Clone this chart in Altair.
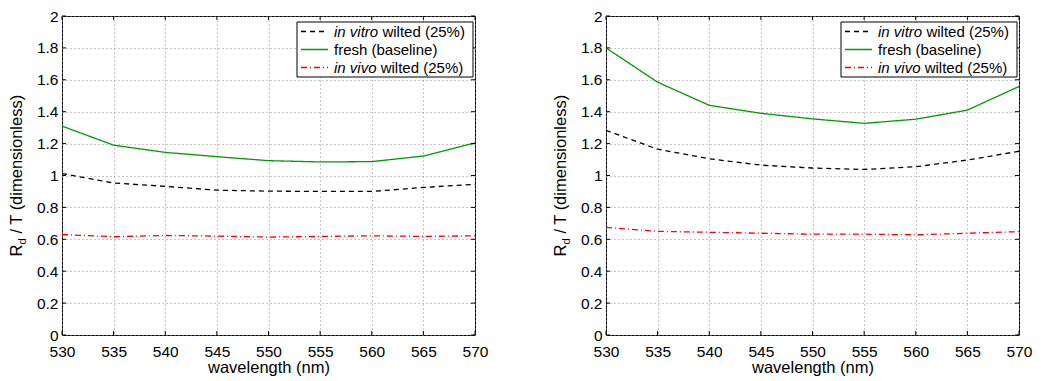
import altair as alt
import pandas as pd

# ---------------- data ----------------
wavelength = [530, 535, 540, 545, 550, 555, 560, 565, 570]

left_vitro = [1.012, 0.953, 0.932, 0.908, 0.902, 0.900, 0.900, 0.925, 0.945]
left_fresh = [1.310, 1.190, 1.145, 1.118, 1.093, 1.085, 1.087, 1.122, 1.204]
left_vivo = [0.630, 0.616, 0.624, 0.620, 0.614, 0.618, 0.622, 0.618, 0.622]

right_vitro = [1.283, 1.165, 1.105, 1.065, 1.047, 1.038, 1.055, 1.097, 1.152]
right_fresh = [1.800, 1.585, 1.440, 1.390, 1.355, 1.327, 1.353, 1.410, 1.558]
right_vivo = [0.675, 0.650, 0.644, 0.638, 0.632, 0.632, 0.628, 0.638, 0.648]

series_names = ["in vitro wilted (25%)", "fresh (baseline)", "in vivo wilted (25%)"]
legend_italic = ["in vitro", "", "in vivo"]
legend_plain = ["wilted (25%)", "fresh (baseline)", "wilted (25%)"]

x_ticks = [530, 535, 540, 545, 550, 555, 560, 565, 570]
y_ticks = [0, 0.2, 0.4, 0.6, 0.8, 1, 1.2, 1.4, 1.6, 1.8, 2]

# ---------------- style ----------------
FONT = "Liberation Sans"
W, H = 413, 319
COLORS = ["#000000", "#009a00", "#ff0000"]
DASHES = [[5, 4], [1, 0], [6, 3, 1, 3]]
TICK = 4
LBL = 15.5
TTL = 16.5

xs = alt.Scale(domain=[530, 570], nice=False, zero=False)
ys = alt.Scale(domain=[0, 2], nice=False, zero=False)

x_axis = alt.Axis(values=x_ticks, format="d", title="wavelength (nm)",
                  labelPadding=9, titlePadding=0, labelFlush=False, labelOverlap=False)
y_axis = alt.Axis(values=y_ticks, format="~g", title=None, labelPadding=4,
                  labelFlush=False, labelOverlap=False)

one = pd.DataFrame({"k": [0]})


def panel(vitro, fresh, vivo):
    rows = []
    for name, vals in zip(series_names, [vitro, fresh, vivo]):
        for w, v in zip(wavelength, vals):
            rows.append({"wavelength": w, "value": v, "series": name})
    df = pd.DataFrame(rows)

    lines = alt.Chart(df).mark_line(strokeWidth=1.3).encode(
        x=alt.X("wavelength:Q", scale=xs, axis=x_axis),
        y=alt.Y("value:Q", scale=ys, axis=y_axis),
        color=alt.Color("series:N", scale=alt.Scale(domain=series_names, range=COLORS), legend=None),
        strokeDash=alt.StrokeDash("series:N", scale=alt.Scale(domain=series_names, range=DASHES), legend=None),
    )

    xt = pd.DataFrame({"wavelength": x_ticks})
    yt = pd.DataFrame({"value": y_ticks})
    top_t = alt.Chart(xt).mark_rule(color="black").encode(
        x=alt.X("wavelength:Q", scale=xs, axis=x_axis), y=alt.value(0), y2=alt.value(TICK))
    bot_t = alt.Chart(xt).mark_rule(color="black").encode(
        x=alt.X("wavelength:Q", scale=xs, axis=x_axis), y=alt.value(H - TICK), y2=alt.value(H))
    left_t = alt.Chart(yt).mark_rule(color="black").encode(
        y=alt.Y("value:Q", scale=ys, axis=y_axis), x=alt.value(0), x2=alt.value(TICK))
    right_t = alt.Chart(yt).mark_rule(color="black").encode(
        y=alt.Y("value:Q", scale=ys, axis=y_axis), x=alt.value(W - TICK), x2=alt.value(W))

    layers = [lines, top_t, bot_t, left_t, right_t]

    # legend box (anchored to the top-right corner of the plot)
    layers.append(alt.Chart(one).mark_rect(fill="white", stroke="black", strokeWidth=1).encode(
        x=alt.value(W - 178), x2=alt.value(W - 2), y=alt.value(6), y2=alt.value(61)))
    row_y = [15.5, 33.5, 51.5]
    for i in range(3):
        ry = row_y[i]
        layers.append(alt.Chart(one).mark_rule(color=COLORS[i], strokeDash=DASHES[i], strokeWidth=1.3).encode(
            x=alt.value(W - 174), x2=alt.value(W - 147), y=alt.value(ry)))
        tx = W - 141
        if legend_italic[i]:
            layers.append(alt.Chart(one).mark_text(
                align="left", baseline="middle", font=FONT, fontSize=15, fontStyle="italic", color="black"
            ).encode(x=alt.value(tx), y=alt.value(ry), text=alt.value(legend_italic[i])))
            tx = tx + (48.4 if i == 0 else 46.7)
        layers.append(alt.Chart(one).mark_text(
            align="left", baseline="middle", font=FONT, fontSize=15, color="black"
        ).encode(x=alt.value(tx), y=alt.value(ry), text=alt.value(legend_plain[i])))

    # y-axis title: R_d / T (dimensionless)
    cy = H / 2 + 81
    bx = -40
    r_w = 0.722 * TTL
    d_w = 0.556 * 11.5
    sp = 0.278 * TTL
    layers.append(alt.Chart(one).mark_text(
        align="left", baseline="alphabetic", angle=270, font=FONT, fontSize=TTL, color="black"
    ).encode(x=alt.value(bx), y=alt.value(cy), text=alt.value("R")))
    layers.append(alt.Chart(one).mark_text(
        align="left", baseline="alphabetic", angle=270, font=FONT, fontSize=11.5, color="black"
    ).encode(x=alt.value(bx + 3.5), y=alt.value(cy - r_w), text=alt.value("d")))
    layers.append(alt.Chart(one).mark_text(
        align="left", baseline="alphabetic", angle=270, font=FONT, fontSize=TTL, color="black"
    ).encode(x=alt.value(bx), y=alt.value(cy - r_w - d_w - sp), text=alt.value("/ T (dimensionless)")))

    return alt.layer(*layers).properties(width=W, height=H)


chart = alt.hconcat(
    panel(left_vitro, left_fresh, left_vivo),
    panel(right_vitro, right_fresh, right_vivo),
    spacing=63,
).properties(
    padding={"left": 0, "top": 0, "right": 0, "bottom": 0}
).configure_view(
    stroke="black", strokeWidth=1
).configure_axis(
    labelFont=FONT, labelFontSize=LBL, labelColor="black",
    titleFont=FONT, titleFontSize=TTL, titleFontWeight="normal", titleColor="black",
    ticks=False, domain=False,
    grid=True, gridColor="#8c8c8c", gridDash=[1, 3], gridWidth=1,
)

chart.save("out.html", embed_options={"renderer": "svg", "actions": False})
